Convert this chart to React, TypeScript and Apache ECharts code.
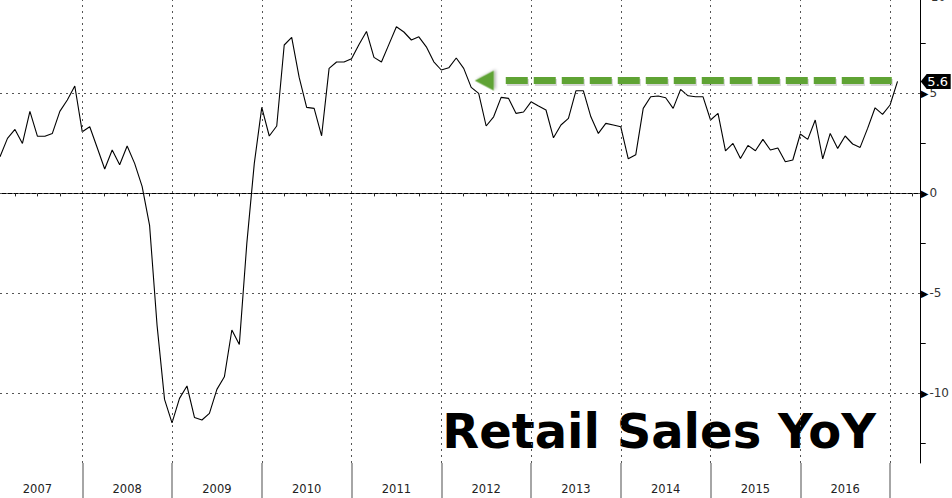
import React, { useEffect, useRef } from "react";
import * as echarts from "echarts";

// Monthly US retail sales, % YoY, Jan 2007 .. Jan 2017
const retailYoY: number[] = [
  1.83, 2.75, 3.2, 2.5, 4.1, 2.86, 2.86, 3.0, 4.1, 4.67, 5.37, 3.08, // 2007
  3.33, 2.28, 1.22, 2.17, 1.43, 2.37, 1.5, 0.35, -1.6, -6.6, -10.3, -11.47, // 2008
  -10.25, -9.63, -11.2, -11.33, -11.0, -9.8, -9.17, -6.83, -7.55, -2.5, 1.5, 4.3, // 2009
  2.87, 3.37, 7.42, 7.8, 5.8, 4.3, 4.25, 2.88, 6.25, 6.57, 6.57, 6.73, // 2010
  7.45, 8.1, 6.8, 6.57, 7.45, 8.33, 8.07, 7.67, 7.83, 7.33, 6.58, 6.17, // 2011
  6.28, 6.77, 6.25, 5.3, 5.0, 3.37, 3.83, 4.8, 4.75, 4.0, 4.07, 4.58, // 2012
  4.37, 4.17, 2.78, 3.42, 3.75, 5.13, 5.13, 3.83, 3.0, 3.5, 3.42, 3.33, // 2013
  1.73, 1.93, 4.25, 4.83, 4.87, 4.78, 4.25, 5.2, 4.88, 4.83, 4.83, 3.67, // 2014
  4.0, 2.13, 2.5, 1.75, 2.4, 2.13, 2.7, 2.17, 2.27, 1.58, 1.67, 2.97, // 2015
  2.7, 3.67, 1.73, 3.0, 2.25, 2.87, 2.47, 2.3, 3.25, 4.28, 3.95, 4.42, // 2016
  5.6, // Jan 2017
];

const yearLabels: string[] = ["2007", "2008", "2009", "2010", "2011", "2012", "2013", "2014", "2015", "2016"];
const yTickLabels: number[] = [-10, -5, 0, 5];
const yMinorTicks: number[] = [-12.5, -10, -7.5, -5, -2.5, 0, 2.5, 5, 7.5];
const gridLevels: number[] = [-10, -5, 0, 5];
const titleText = "Retail Sales YoY";

// x axis in months since 1 Jan 2007; each monthly value plotted at month end
const X_MIN = 1;
const X_MAX = 124.1;
const Y_MIN = -13.48;
const Y_MAX = 9.67;

const yearBounds: number[] = [];
for (let k = 1; k <= yearLabels.length; k++) yearBounds.push(k * 12);
const yearCenters: number[] = yearLabels.map((_, k) => k * 12 + 6);
const quarterTicks: number[] = [];
for (let m = 3; m < X_MAX; m += 3) if (m % 12 !== 0) quarterTicks.push(m);

const seriesData = retailYoY.map((v, i) => [i + 1, v]);
const lastValue = retailYoY[retailYoY.length - 1];

// annotation arrow (months, level)
const arrowLevel = 5.64;
const arrowShadowLevel = 5.55;
const arrowHeadX = 65.75;
const arrowDashFrom = 68.62;
const arrowDashTo = 120.6;
const GREEN = "#5fa334";

export default function App() {
  const ref = useRef<HTMLDivElement>(null);
  useEffect(() => {
    if (!ref.current) return;
    const chart = echarts.init(ref.current, undefined, { renderer: "svg" });
    const font = "DejaVu Sans";
    const dashLine = (level: number, color: string, dx: number) => ({
      type: "line",
      data: [],
      silent: true,
      markLine: {
        silent: true,
        symbol: ["none", "none"],
        label: { show: false },
        emphasis: { disabled: true },
        lineStyle: { type: [22, 6], color, width: 7 },
        data: [[{ coord: [arrowDashFrom + dx, level] }, { coord: [arrowDashTo + dx, level] }]],
      },
    });
    chart.setOption({
      animation: false,
      backgroundColor: "#ffffff",
      grid: { left: 0, right: 31, top: 0, bottom: 35, containLabel: false },
      xAxis: [
        {
          type: "value",
          min: X_MIN,
          max: X_MAX,
          position: "bottom",
          axisLine: { show: true, lineStyle: { color: "#000", width: 1 } },
          axisTick: { show: true, customValues: quarterTicks, length: 3, lineStyle: { color: "#222" } },
          axisLabel: {
            show: true,
            customValues: yearCenters,
            formatter: (v: number) => yearLabels[Math.round((v - 6) / 12)] ?? "",
            margin: 20,
            color: "#222",
            fontSize: 11.5,
            fontFamily: font,
          },
          splitLine: { show: false },
        },
        {
          type: "value",
          min: X_MIN,
          max: X_MAX,
          position: "bottom",
          offset: 0,
          axisLine: { show: false },
          axisTick: { show: true, customValues: yearBounds, length: 36, lineStyle: { color: "#888", width: 1.5 } },
          axisLabel: { show: false },
          splitLine: { show: false },
        },
      ],
      yAxis: {
        type: "value",
        position: "right",
        min: Y_MIN,
        max: Y_MAX,
        axisLine: { show: true, lineStyle: { color: "#000", width: 1 } },
        axisTick: { show: true, customValues: yMinorTicks, length: 5, lineStyle: { color: "#000" } },
        axisLabel: {
          show: true,
          customValues: yTickLabels,
          margin: 0,
          formatter: (v: number) => `{t|▶}{v|${v}}`,
          rich: {
            t: { fontSize: 10, color: "#000", fontFamily: font },
            v: { fontSize: 12, color: "#333", fontFamily: font, padding: [0, 0, 0, 1] },
          },
        },
        splitLine: { show: false },
      },
      graphic: [
        {
          type: "text",
          right: 6,
          top: -9,
          style: { text: "10", fill: "#333", font: `12px '${font}'` },
          z: 10,
        },
        {
          type: "group",
          z: 20,
          children: [
            { type: "rect", shape: { x: 444, y: 410, width: 440, height: 46 }, style: { fill: "#fff" } },
            {
              type: "text",
              style: {
                x: 876,
                y: 431,
                text: titleText,
                fill: "#000",
                font: `bold 48px '${font}'`,
                align: "right",
                verticalAlign: "middle",
              },
            },
          ],
        },
      ],
      series: [
        {
          type: "line",
          name: "grid",
          data: [],
          z: 1,
          silent: true,
          markLine: {
            silent: true,
            symbol: ["none", "none"],
            label: { show: false },
            lineStyle: { type: [2, 4], color: "#555", width: 1 },
            emphasis: { disabled: true },
            data: [
              ...gridLevels.map((v) => ({ yAxis: v })),
              ...yearBounds.map((v) => ({ xAxis: v })),
            ],
          },
        },
        {
          type: "line",
          name: "Retail Sales YoY",
          data: seriesData,
          z: 3,
          showSymbol: false,
          symbol: "none",
          lineStyle: { color: "#000", width: 1.1 },
          markPoint: {
            silent: true,
            data: [
              {
                coord: [X_MAX, lastValue],
                value: lastValue,
                symbol: "path://M0,7 L6,0 L30,0 L30,14 L6,14 Z",
                symbolSize: [30, 15],
                symbolOffset: [15, 0],
                itemStyle: { color: "#000" },
                label: {
                  show: true,
                  position: "inside",
                  offset: [2, 0],
                  formatter: String(lastValue),
                  color: "#fff",
                  fontSize: 13,
                  fontFamily: font,
                },
              },
            ],
          },
        },
        { ...dashLine(arrowShadowLevel, "rgba(0,0,0,0.16)", 0.15), z: 4 },
        { ...dashLine(arrowLevel, GREEN, 0), z: 5 },
        {
          type: "line",
          name: "arrowHead",
          data: [],
          z: 5,
          silent: true,
          markPoint: {
            silent: true,
            data: [
              {
                coord: [arrowHeadX, arrowLevel],
                symbol: "triangle",
                symbolSize: [20, 19],
                symbolRotate: 90,
                itemStyle: {
                  color: GREEN,
                  shadowBlur: 3,
                  shadowColor: "rgba(0,0,0,0.3)",
                  shadowOffsetX: 1,
                  shadowOffsetY: 2,
                },
                label: { show: false },
              },
            ],
          },
        },
      ],
    });
    return () => chart.dispose();
  }, []);
  return (
    <div
      ref={ref}
      style={{ position: "absolute", left: 0, top: 0, width: 952, height: 498, background: "#fff" }}
    />
  );
}
